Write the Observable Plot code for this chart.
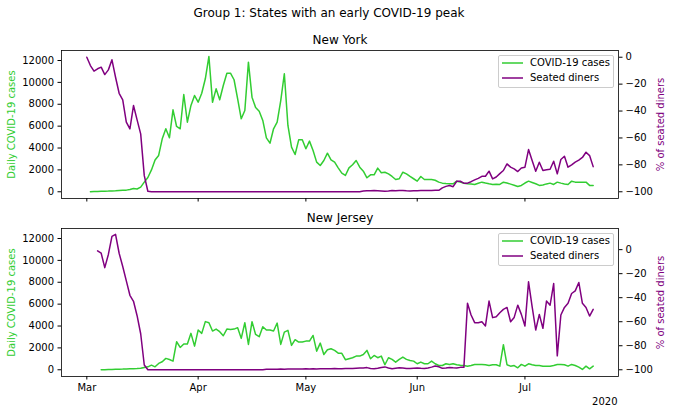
<!DOCTYPE html>
<html><head><meta charset="utf-8">
<script src="https://cdn.jsdelivr.net/npm/d3@7"></script>
<script src="https://cdn.jsdelivr.net/npm/@observablehq/plot@0.6"></script>
<style>
body{margin:0;background:#fff;font-family:"DejaVu Sans",sans-serif;}
#page{position:relative;width:673px;height:413px;overflow:hidden;background:#fff;}
.layer{position:absolute;left:0;}
.title{position:absolute;left:0;width:658px;text-align:center;font-size:12px;line-height:14px;color:#000;}
.legend{position:absolute;box-sizing:border-box;border:1px solid #cccccc;border-radius:2px;background:rgba(255,255,255,0.8);}
.legend svg{position:absolute;left:2px;}
.legend .lt{position:absolute;left:31px;font-size:10px;line-height:12px;color:#000;white-space:nowrap;}
</style></head><body><div id="page"></div>
<script>
// ---- data (daily values) ----
const suptitle = "Group 1: States with an early COVID-19 peak";
const panelTitles = ["New York", "New Jersey"];
const seriesNames = ["COVID-19 cases", "Seated diners"];
const caseTicks = [0, 2000, 4000, 6000, 8000, 10000, 12000];
const dinerTicksNY = [-100, -80, -60, -40, -20, 0];
const dinerTicksNJ = [-100, -80, -60, -40, -20, 0];
const monthTicks = ["2020-03-01", "2020-04-01", "2020-05-01", "2020-06-01", "2020-07-01"];
const offsetLabel = "2020";

const nyCasesStart = "2020-03-02";
const nyCases = [0, 20, 30, 40, 50, 60, 80, 90, 110, 130, 150, 200, 300, 250, 420,
  880, 1300, 2000, 2900, 3320, 4840, 5760, 4930, 7490, 5970, 5760, 8890, 6360, 7890, 8800,
  8190, 9010, 10330, 12370, 8190, 9410, 8410, 9720, 10840, 10840, 10240, 8500, 6670, 7430, 11850,
  8650, 7700, 7370, 6520, 4930, 4440, 5760, 6360, 8340, 10790, 6060, 4080, 3410, 4750, 4750,
  3930, 4630, 3770, 2710, 2400, 2860, 3530, 2920, 2710, 2190, 1700, 1490, 2190, 2470, 2860,
  2250, 1880, 1280, 1550, 1550, 2160, 1740, 1790, 1640, 1400, 1120, 1190, 1790, 1640, 1400,
  1190, 970, 1400, 1120, 1120, 1120, 1050, 880, 790, 760, 740, 730, 970, 880, 780,
  730, 700, 670, 780, 880, 800, 730, 670, 680, 670, 880, 800, 700, 600, 480,
  580, 800, 970, 850, 730, 580, 620, 720, 790, 670, 880, 790, 720, 670, 970,
  880, 880, 870, 880, 580, 580];

const nyDinersStart = "2020-03-01";
const nyDiners = [0, -6.2, -10.4, -8.6, -7.4, -12.9, -9.4, -1.9, -14.9, -26.8, -31.7, -48.3, -53.3, -35.9, -46.6, -57, -88, -99.6,
  -100, -100, -100, -100, -100, -100, -100, -100, -100, -100,
  -100, -100, -100, -100, -100, -100, -100, -100, -100, -100,
  -100, -100, -100, -100, -100, -100, -100, -100, -100, -100,
  -100, -100, -100, -100, -100, -100, -100, -100, -100, -100,
  -100, -100, -100, -100, -100, -100, -100, -100, -100, -100,
  -100, -100, -100, -100, -100, -100, -100, -100, -100,
  -99.5, -99.3, -99.2, -99, -99.2, -99.4, -99.6, -99.4, -99.1, -99.2, -99.1,
  -99.1, -99.3, -99.4, -99.3, -99.2, -99.1, -99.1, -99, -99, -98.9, -98.9,
  -97.1, -96, -95.4, -96.2, -92.2, -92.2, -93.6, -93.6, -92.5, -91.2, -90, -88.5, -88.5, -84.7, -90.4,
  -89, -86.5, -84.2, -79.3, -81.7, -83, -85, -82.3, -81.7, -68.6, -76.8, -84.7, -78, -84.2, -83.6,
  -83.3, -77.3, -86.7, -76, -73.6, -81.7, -80, -78, -76.5, -74.5, -70.6, -73.1, -81.3];

const njCasesStart = "2020-03-05";
const njCases = [0, 10, 20, 30, 40, 50, 60, 80, 90, 100, 110, 130,
  200, 270, 420, 270, 580, 730, 1040, 940, 790, 2560, 2040, 2350, 2350, 3330, 2160,
  3630, 3330, 4400, 4300, 3540, 3720, 3480, 3110, 3720, 3690, 3720, 3850, 2870, 4300, 2320,
  4400, 3230, 3020, 3940, 3630, 3630, 3540, 4270, 2320, 3440, 3600, 2230, 2750, 2530, 2530,
  2620, 2620, 3140, 1700, 2440, 1400, 1830, 1920, 1770, 1520, 1500, 920, 1010, 1100, 1250,
  1250, 1400, 1770, 1010, 1310, 1100, 1250, 460, 1100, 950, 700, 950, 1160, 950, 850,
  790, 550, 700, 550, 550, 790, 550, 390, 390, 550, 490, 550, 460, 420, 390,
  330, 390, 490, 490, 490, 460, 390, 460, 460, 330, 2290, 460, 330, 390, 180,
  490, 330, 550, 460, 390, 390, 330, 330, 330, 390, 490, 490, 460, 330, 490,
  390, 240, 30, 330, 90, 330];

const njDinersStart = "2020-03-04";
const njDiners = [-1, -3, -15, -4, 11, 12.7, -3, -14, -26, -38, -43, -55, -70, -96,
  -100, -100, -100, -100, -100, -100, -100, -100, -100, -100, -100,
  -100, -100, -100, -100, -100, -100, -100, -100, -100, -100, -100,
  -100, -100, -100, -100, -100, -100, -100, -100, -100, -100, -100,
  -99.6, -99.6, -99.5, -99.5, -99.4, -99.5, -99.4, -99.4, -99.3, -99.4,
  -99.3, -99.2, -99.3, -99.2, -99.3, -99.2, -99.1, -99.2, -99.1, -99,
  -99.1, -99.2, -99, -98.9, -99, -98.8, -98.6, -98.6,
  -98.2, -99, -99.2, -98.8, -98.2, -97.6, -98.5, -99.2, -98.8, -98.4, -98.6, -98.9, -99, -98.7,
  -98.5, -98.8, -99, -98.5, -97.8, -96.8, -97.5, -98.8, -98.6, -98.2, -98.4, -98.5, -98, -98,
  -44.7, -54.4, -60.8, -60.8, -60, -63.5, -42.8, -56.6, -55.8, -52.5, -49.7, -48.1,
  -60, -56.4, -46.2, -53.9, -63.5, -26.8, -47.5, -66.9, -53.9, -65.5, -42.8, -46.2,
  -28.2, -88.4, -54.4, -48.1, -44.7, -36.5, -34.3, -27.3, -44.7, -48.1, -55.3, -49.7];

// ---- build tables ----
const toRows = (start, values) => {
  const s = new Date(start + "T00:00:00Z");
  return values.map((v, i) => ({date: d3.utcDay.offset(s, i), value: v}));
};
const xDomain = [new Date("2020-02-22T22:48:00Z"), new Date("2020-07-27T01:12:00Z")];
const monthDates = monthTicks.map(d => new Date(d + "T00:00:00Z"));
const GREEN = "limegreen", PURPLE = "purple";
const fmtMinus = d => d < 0 ? "\u2212" + Math.abs(d) : String(d);
const W = 673, ML = 61, MR = 55;
const baseStyle = {fontFamily: "DejaVu Sans", fontSize: "10px", background: "transparent", color: "black", overflow: "visible"};

const page = document.getElementById("page");

function addDiv(cls, css, html) {
  const d = document.createElement("div");
  d.className = cls;
  Object.assign(d.style, css);
  if (html != null) d.textContent = html;
  page.appendChild(d);
  return d;
}

addDiv("title", {top: "6px"}, suptitle);

function panel({top, height, mt, mb, cases, diners, dinersDomain, dinerTicks, showX, title, legendTop}) {
  const a = Plot.plot({
    width: W, height, marginTop: mt, marginBottom: mb, marginLeft: ML, marginRight: MR,
    style: baseStyle,
    x: {type: "utc", domain: xDomain, ticks: monthDates, tickFormat: showX ? d3.utcFormat("%b") : () => "", tickSize: 3.5, tickPadding: 3.5, label: null},
    y: {domain: [-615, 12915], ticks: caseTicks, tickFormat: d => String(d), tickSize: 3.5, tickPadding: 4, label: null},
    marks: [
      Plot.line(cases, {x: "date", y: "value", stroke: GREEN, strokeWidth: 1.5}),
      Plot.frame({stroke: "black", strokeWidth: 0.8}),
      Plot.text([title], {text: d => d, frameAnchor: "top", dy: -10, fontSize: 12, fill: "black", textAnchor: "middle", lineAnchor: "middle"}),
      Plot.text(["Daily COVID-19 cases"], {text: d => d, frameAnchor: "left", dx: -50, rotate: -90, fontSize: 10, fill: GREEN, textAnchor: "middle", lineAnchor: "middle"}),
      ...(showX ? [Plot.text([offsetLabel], {text: d => d, frameAnchor: "bottom-right", dy: 25, dx: -1, textAnchor: "end", lineAnchor: "middle", fontSize: 10, fill: "black"})] : [])
    ]
  });
  const b = Plot.plot({
    width: W, height, marginTop: mt, marginBottom: mb, marginLeft: ML, marginRight: MR,
    style: baseStyle,
    x: {type: "utc", domain: xDomain, axis: null},
    y: {domain: dinersDomain, axis: "right", ticks: dinerTicks, tickFormat: fmtMinus, tickSize: 3.5, tickPadding: 3.5, label: null},
    marks: [
      Plot.line(diners, {x: "date", y: "value", stroke: PURPLE, strokeWidth: 1.5}),
      Plot.text(["% of seated diners"], {text: d => d, frameAnchor: "right", dx: 42, rotate: -90, fontSize: 10, fill: PURPLE, textAnchor: "middle", lineAnchor: "middle"})
    ]
  });
  for (const svg of [a, b]) {
    svg.classList.add("layer");
    svg.style.top = top + "px";
    svg.style.position = "absolute";
    page.appendChild(svg);
  }
  const lg = addDiv("legend", {left: "498px", top: legendTop + "px", width: "116px", height: "33px"});
  const rows = [[seriesNames[0], GREEN, 8.3], [seriesNames[1], PURPLE, 22.7]];
  for (const [name, col, cy] of rows) {
    const ns = "http://www.w3.org/2000/svg";
    const sw = document.createElementNS(ns, "svg");
    sw.setAttribute("width", "24"); sw.setAttribute("height", "6");
    sw.style.top = (cy - 4) + "px";
    const ln = document.createElementNS(ns, "line");
    ln.setAttribute("x1", "1"); ln.setAttribute("x2", "22");
    ln.setAttribute("y1", "3"); ln.setAttribute("y2", "3");
    ln.setAttribute("stroke", col); ln.setAttribute("stroke-width", "1.5");
    sw.appendChild(ln);
    lg.appendChild(sw);
    const t = document.createElement("div");
    t.className = "lt"; t.style.top = (cy - 7) + "px"; t.textContent = name;
    lg.appendChild(t);
  }
}

panel({top: 30, height: 190, mt: 20, mb: 22,
  cases: toRows(nyCasesStart, nyCases), diners: toRows(nyDinersStart, nyDiners),
  dinersDomain: [-105, 5], dinerTicks: dinerTicksNY, showX: false, title: panelTitles[0], legendTop: 55});
panel({top: 208, height: 205, mt: 20, mb: 37,
  cases: toRows(njCasesStart, njCases), diners: toRows(njDinersStart, njDiners),
  dinersDomain: [-105.6, 17.6], dinerTicks: dinerTicksNJ, showX: true, title: panelTitles[1], legendTop: 233});
</script></body></html>
